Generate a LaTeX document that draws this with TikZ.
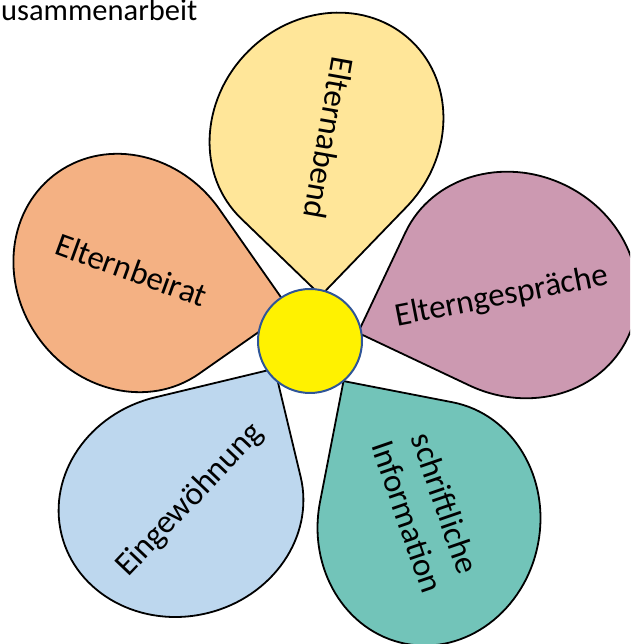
\documentclass[tikz,border=0pt]{standalone}
\usepackage{fontspec}
\setmainfont{Carlito}
\definecolor{pyellow}{HTML}{FFE699}
\definecolor{porange}{HTML}{F4B183}
\definecolor{ppink}{HTML}{CC99B1}
\definecolor{pteal}{HTML}{72C4B9}
\definecolor{pblue}{HTML}{BDD7EE}
\definecolor{circblue}{HTML}{2F5597}
\newcommand\flowerpetal[4]{%
  \draw[petal, fill=#4, shift={(#1,#2)}, rotate=#3]
    (-123,0) arc[start angle=180, end angle=90, x radius=123pt, y radius=111pt]
    -- (123,111) -- (123,0)
    arc[start angle=0, end angle=-180, x radius=123pt, y radius=111pt] -- cycle;
}
\begin{document}
\begin{tikzpicture}[x=1pt,y=1pt,
  petal/.style={draw=black, line width=1.8pt, line join=round},
  lbl/.style={font=\fontsize{33}{40}\selectfont, inner sep=0pt, align=center}]
\useasboundingbox (0,0) rectangle (630,644);
\begin{scope}
\clip (0,0) rectangle (630,644);
\flowerpetal{326.5}{514}{226}{pyellow}
\flowerpetal{128.5}{371}{305}{porange}
\flowerpetal{181}{138.7}{13.5}{pblue}
\flowerpetal{429}{121}{79}{pteal}
\flowerpetal{516.6}{359}{154.7}{ppink}
\end{scope}
\node[draw=circblue, fill=yellow, circle, line width=2pt, minimum size=104pt, inner sep=0pt] (mid) at (310,303) {};
\node[lbl, rotate=-100] (t1) at (329,506) {Elternabend};
\node[lbl, rotate=-20] (t2) at (131.5,374) {Elternbeirat};
\node[lbl, rotate=11] (t3) at (502,347) {Elterngespräche};
\node[lbl, rotate=-71] (t4) at (426.5,134) {schriftliche\\Information};
\node[lbl, rotate=46.5] (t5) at (190,144) {Eingewöhnung};
\node[font=\fontsize{30.5}{36}\selectfont, inner sep=0pt, anchor=base west] (title) at (1,623) {usammenarbeit};
\end{tikzpicture}
\end{document}
